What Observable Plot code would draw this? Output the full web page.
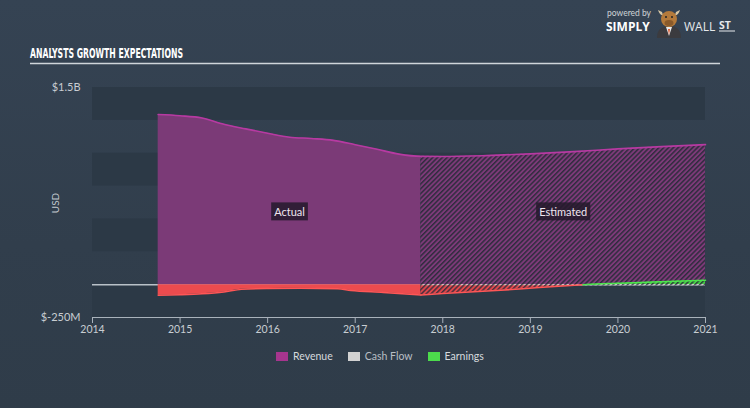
<!DOCTYPE html>
<html><head><meta charset="utf-8">
<script src="https://cdn.jsdelivr.net/npm/d3@7"></script>
<script src="https://cdn.jsdelivr.net/npm/@observablehq/plot@0.6"></script>
<style>
html,body{margin:0;padding:0;background:#324050;}
#wrap{position:relative;width:750px;height:408px;overflow:hidden;background:linear-gradient(180deg,#354353 0%,#313e4c 60%,#2f3c49 100%);font-family:Lato,"Open Sans",sans-serif;}
#chart{position:absolute;left:0;top:65px;}
#legend{position:absolute;left:276px;top:350px;display:flex;align-items:center;font-size:10.5px;color:#d6dade;}
#legend .it{display:flex;align-items:center;margin-right:15px;}
#legend .sw{width:12px;height:9px;margin-right:5px;}
#usd{position:absolute;left:55px;top:203px;transform:translate(-50%,-50%) rotate(-90deg);font-size:10px;color:#c3c9cf;}
</style></head><body>
<div id="wrap">
  <svg width="750" height="70" style="position:absolute;left:0;top:0">
    <text x="30" y="57.5" textLength="153" lengthAdjust="spacingAndGlyphs" font-family="'Liberation Sans Narrow','DejaVu Sans Condensed',sans-serif" font-weight="bold" font-size="14" fill="#ffffff">ANALYSTS GROWTH EXPECTATIONS</text>
    <line x1="30" x2="720" y1="63.5" y2="63.5" stroke="#cfd5da" stroke-width="1.5"/>
    <text x="607" y="16" font-family="Lato,sans-serif" font-size="8.5" fill="#cfd3d7">powered by</text>
    <text x="606" y="30.5" font-family="'Open Sans',Lato,sans-serif" font-weight="bold" font-size="12" fill="#ffffff">SIMPLY</text>
    <g transform="translate(669,22)">
      <path d="M-12,16 Q-12,4 0,4 Q12,4 12,16 Z" fill="#3b3b3f"/>
      <path d="M-3,5 L0,14 L3,5 Z" fill="#e9e9e9"/>
      <path d="M-1,7 L0,13 L1,7 Z" fill="#e0572b"/>
      <path d="M-11,-12 Q-9,-6 -6,-7 L-7,-10 Z M11,-12 Q9,-6 6,-7 L7,-10 Z" fill="#d9c9a8"/>
      <ellipse cx="0" cy="-3" rx="8" ry="8" fill="#b47a3b"/>
      <ellipse cx="0" cy="1" rx="4.5" ry="3" fill="#8a5a2a"/>
      <circle cx="-3" cy="-5" r="1" fill="#222"/><circle cx="3" cy="-5" r="1" fill="#222"/>
    </g>
    <text x="684" y="30.5" font-family="'Open Sans',Lato,sans-serif" font-size="12" fill="#e6e9ec">WALL</text>
    <text x="719" y="29" font-family="'Open Sans',Lato,sans-serif" font-weight="bold" font-size="10.5" fill="#e6e9ec">ST</text>
    <line x1="719" x2="735" y1="31" y2="31" stroke="#e6e9ec" stroke-width="1"/>
  </svg>
  <div id="usd">USD</div>
  <div id="chart"></div>
  <div id="legend">
    <div class="it"><div class="sw" style="background:#a6358e"></div><span>Revenue</span></div>
    <div class="it"><div class="sw" style="background:#d2d2d2"></div><span style="color:#b9bfc5">Cash Flow</span></div>
    <div class="it"><div class="sw" style="background:#4cdc4c"></div><span>Earnings</span></div>
  </div>
</div>
<script>
// ---- data (USD billions) ----
const xDomain = [2014, 2021];
const xTicks = [2014, 2015, 2016, 2017, 2018, 2019, 2020, 2021];
const yDomain = [-0.25, 1.5];
const yTicks = [1.5, -0.25];
const yTickLabels = ["$1.5B", "$-250M"];
const bandTops = [1.5, 1.0, 0.5, 0.0];
const bandSize = 0.25;

const revenueActualYears = [2014.75, 2015, 2015.25, 2015.5, 2015.75, 2016, 2016.25, 2016.5, 2016.75, 2017, 2017.25, 2017.5, 2017.75];
const revenueActual      = [1.294, 1.285, 1.268, 1.22, 1.185, 1.152, 1.122, 1.112, 1.098, 1.065, 1.03, 0.993, 0.976];
const revenueEstYears    = [2017.75, 2018, 2018.5, 2019, 2019.5, 2020, 2020.5, 2021];
const revenueEst         = [0.976, 0.975, 0.982, 0.995, 1.012, 1.033, 1.05, 1.065];

const earningsActualYears = [2014.75, 2015, 2015.25, 2015.5, 2015.7, 2016, 2016.37, 2016.8, 2016.95, 2017.32, 2017.75];
const earningsActual      = [-0.081, -0.077, -0.07, -0.056, -0.036, -0.03, -0.028, -0.032, -0.044, -0.059, -0.079];
const earningsEstYears    = [2017.75, 2018, 2018.66, 2019.1, 2019.6, 2019.88, 2020, 2020.4, 2021];
const earningsEst         = [-0.079, -0.068, -0.043, -0.022, 0, 0.008, 0.01, 0.02, 0.033];

const cashFlowEstYears = [2017.75, 2018.5, 2019.5, 2020.5, 2021];
const cashFlowEst      = [-0.008, -0.008, -0.008, -0.008, -0.008];

const periodLabels = ["Actual", "Estimated"];
const labelLevel = 0.55;

// ---- build tables ----
const zip = (xs, vs) => xs.map((x, i) => ({year: x, value: vs[i]}));
const revA = zip(revenueActualYears, revenueActual);
const revE = zip(revenueEstYears, revenueEst);
const revAll = revA.concat(revE.slice(1));
const earnA = zip(earningsActualYears, earningsActual);
const earnE = zip(earningsEstYears, earningsEst);
const earnENeg = earnE.filter(d => d.value <= 0);
const earnEPos = earnE.filter(d => d.value >= 0);
const cashE = zip(cashFlowEstYears, cashFlowEst);
const bands = bandTops.map(t => ({top: t, bottom: t - bandSize}));
const labels = [
  {x: (revenueActualYears[0] + revenueActualYears[revenueActualYears.length - 1]) / 2, text: periodLabels[0]},
  {x: (revenueEstYears[0] + revenueEstYears[revenueEstYears.length - 1]) / 2, text: periodLabels[1]}
];
const curve = "monotone-x";

const plot = Plot.plot({
  width: 750, height: 282,
  marginLeft: 92, marginRight: 45, marginTop: 22, marginBottom: 30,
  style: {background: "transparent", color: "#c8cdd2", fontFamily: "Lato, 'Open Sans', sans-serif", fontSize: "10.5px", overflow: "visible"},
  x: {domain: xDomain, label: null},
  y: {domain: yDomain, label: null},
  marks: [
    Plot.rectY(bands, {x1: () => xDomain[0], x2: () => xDomain[1], y1: "top", y2: "bottom", fill: "#2c3946"}),
    Plot.ruleY([0], {x1: () => xDomain[0], x2: () => xDomain[1], stroke: "#b9c1c8", strokeWidth: 1.5}),
    Plot.areaY(revA, {x: "year", y: "value", fill: "#7b3a77", curve}),
    Plot.areaY(revE, {x: "year", y: "value", fill: "url(#hRev)", curve}),
    Plot.lineY(revAll, {x: "year", y: "value", stroke: "#b73aa2", strokeWidth: 1.6, curve}),
    Plot.areaY(earnA, {x: "year", y: "value", fill: "#ec4b4e", curve}),
    Plot.areaY(earnENeg, {x: "year", y: "value", fill: "url(#hRed)", curve}),
    Plot.areaY(earnEPos, {x: "year", y: "value", fill: "url(#hGreen)", curve}),
    Plot.areaY(cashE, {x: "year", y: "value", fill: "url(#hGray)"}),
    Plot.lineY(earnA, {x: "year", y: "value", stroke: "#ff5656", strokeWidth: 1.5, curve}),
    Plot.lineY(earnENeg, {x: "year", y: "value", stroke: "#ff5656", strokeWidth: 1.5, curve}),
    Plot.lineY(earnEPos, {x: "year", y: "value", stroke: "#4ee44e", strokeWidth: 1.5, curve}),
    Plot.ruleY([yDomain[0]], {x1: () => xDomain[0], x2: () => xDomain[1], stroke: "#a9b2bb", strokeWidth: 1}),
    Plot.axisX({ticks: xTicks, tickFormat: d => String(d), tickSize: 6, tickPadding: 2, stroke: "#a9b2bb", fill: "#c8cdd2", label: null}),
    Plot.axisY({ticks: yTicks, tickFormat: d => yTickLabels[yTicks.indexOf(d)], tickSize: 0, tickPadding: 12, fill: "#c8cdd2", fontSize: 11, label: null}),
    Plot.text(labels, {x: "x", y: () => labelLevel, text: "text", fill: "#efe6ef", fontSize: 11})
  ]
});

document.getElementById("chart").appendChild(plot);

const svg = d3.select(plot);
const defs = svg.insert("defs", ":first-child");
function hatch(id, base, line) {
  const p = defs.append("pattern").attr("id", id).attr("width", 3.4).attr("height", 3.4)
    .attr("patternUnits", "userSpaceOnUse").attr("patternTransform", "rotate(45)");
  p.append("rect").attr("width", 3.4).attr("height", 3.4).attr("fill", base);
  p.append("rect").attr("width", 1.5).attr("height", 3.4).attr("fill", line);
}
hatch("hRev", "#7d3a79", "#302c3e");
hatch("hRed", "#e0474c", "#4a2f3c");
hatch("hGreen", "#46d046", "#2b3f3a");
hatch("hGray", "#d8d8d8", "#3a3f48");

// label boxes behind the period labels
svg.selectAll("g[aria-label='text'] text").each(function() {
  const b = this.getBBox();
  const r = d3.select(this.parentNode).insert("rect", () => this)
    .attr("x", b.x - 3).attr("y", b.y - 2.5)
    .attr("width", b.width + 6).attr("height", b.height + 5)
    .attr("fill", "#251a2b").attr("fill-opacity", 0.85);
  const t = this.getAttribute("transform");
  if (t) r.attr("transform", t);
});
</script>
</body></html>
